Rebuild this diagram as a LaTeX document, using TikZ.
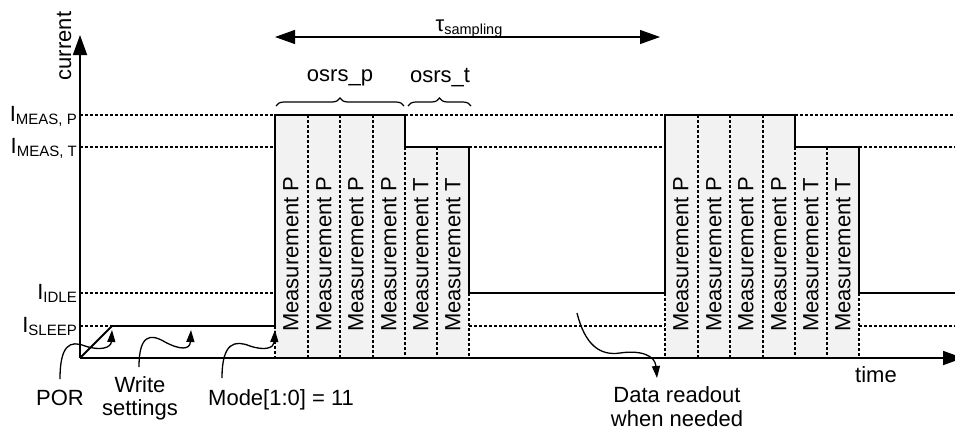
\documentclass[tikz,border=0pt]{standalone}
\usepackage{fontspec}
\setmainfont{Liberation Sans}
\usetikzlibrary{arrows.meta,decorations.pathreplacing}
\definecolor{blockfill}{HTML}{F2F2F2}
\newcommand{\lvlsub}[1]{\raisebox{-3pt}{\fontsize{15}{15}\selectfont #1}}
\begin{document}
\begin{tikzpicture}[x=1pt,y=-1pt,
  axis/.style={line width=1.8pt,-{Triangle[length=20pt,width=14pt]}},
  trace/.style={line width=1.8pt,line join=miter},
  guide/.style={line width=1.1pt,dash pattern=on 3pt off 2pt},
  meas/.style={rotate=90,anchor=west,inner sep=0pt,font=\fontsize{22}{22}\selectfont},
  lbl/.style={inner sep=0pt,font=\fontsize{22}{24}\selectfont},
  lvl/.style={anchor=base east,inner sep=0pt,font=\fontsize{22}{22}\selectfont},
  wave/.style={line width=1.3pt,-{Triangle[length=12pt,width=8pt]}},
  brc/.style={line width=1.2pt,decorate,decoration={brace,amplitude=8pt}},
  tauarr/.style={line width=1.2pt,{Triangle[length=20pt,width=14pt]}-{Triangle[length=20pt,width=14pt]}}
]
\useasboundingbox (0,0) rectangle (955,429);

% block fills
\foreach \s in {0,390}{
  \fill[blockfill] (275+\s,115) rectangle (405+\s,358);
  \fill[blockfill] (405+\s,147) rectangle (469+\s,358);
}
% block dividers
\foreach \s in {0,390}{
  \foreach \x in {308,340,373}{\draw[guide] (\x+\s,115) -- (\x+\s,358);}
  \draw[guide] (405+\s,147) -- (405+\s,358);
  \draw[guide] (437+\s,147) -- (437+\s,358);
  \draw[guide] (469+\s,293) -- (469+\s,358);
}
\draw[guide] (275,326) -- (275,358);
\draw[guide] (665,293) -- (665,358);

% level guides
\draw[guide] (80,115) -- (275,115);
\draw[guide] (405,115) -- (665,115);
\draw[guide] (795,115) -- (955,115);
\draw[guide] (80,147) -- (275,147);
\draw[guide] (469,147) -- (665,147);
\draw[guide] (859,147) -- (955,147);
\draw[guide] (80,293) -- (275,293);
\draw[guide] (80,326) -- (112,326);
\draw[guide] (469,326) -- (665,326);
\draw[guide] (859,326) -- (955,326);

% measurement labels
\foreach \s in {0,390}{
  \foreach \x/\t in {291/P,324/P,356/P,389/P,421/T,453/T}{
    \node[meas] at (\x+\s,332) {Measurement \t};
  }
}

% axes
\coordinate (O) at (80,358);
\coordinate (Ytop) at (80,35);
\coordinate (Xend) at (963,358);
\draw[axis] (O) -- (Ytop);
\draw[axis] (O) -- (Xend);

% current trace
\draw[trace] (O) -- (112,326) -- (275,326) -- (275,115) -- (405,115) -- (405,147)
  -- (469,147) -- (469,293) -- (665,293) -- (665,115) -- (795,115) -- (795,147)
  -- (859,147) -- (859,293) -- (955,293);

% axis labels
\node[lbl,rotate=90] (cur) at (64,46) {current};
\node[lbl,anchor=base] (time) at (876,382) {time};
\node[lvl] (imp) at (77,121) {I\lvlsub{MEAS, P}};
\node[lvl] (imt) at (77,153) {I\lvlsub{MEAS, T}};
\node[lvl] (iid) at (77,299) {I\lvlsub{IDLE}};
\node[lvl] (isl) at (77,332) {I\lvlsub{SLEEP}};

% tau sampling
\coordinate (tauL) at (275,37);
\coordinate (tauR) at (660,37);
\draw[tauarr] (tauL) -- (tauR);
\node[lbl,anchor=base] (tau) at (469,31) {τ\raisebox{-3pt}{\fontsize{14.5}{14.5}\selectfont sampling}};

% braces
\coordinate (bpL) at (276,106);
\coordinate (bpR) at (404,106);
\coordinate (btL) at (408,106);
\coordinate (btR) at (471,106);
\draw[brc] (bpL) -- (bpR);
\draw[brc] (btL) -- (btR);
\node[lbl] (osp) at (340,78) {osrs\_p};
\node[lbl] (ost) at (440,78) {osrs\_t};

% bottom labels
\node[lbl,anchor=base] (por) at (60,405) {POR};
\node[lbl,anchor=base] (wr1) at (140,392) {Write};
\node[lbl,anchor=base] (wr2) at (140,415) {settings};
\node[lbl,anchor=base west] (mode) at (208,405) {Mode[1:0] = 11};
\node[lbl,anchor=base] (dr1) at (677,402) {Data readout};
\node[lbl,anchor=base] (dr2) at (677,426) {when needed};

% wavy pointers
\coordinate (porS) at (60,379);
\coordinate (porT) at (112,330);
\coordinate (wrS) at (139,367);
\coordinate (wrT) at (191,330);
\coordinate (moS) at (222,378);
\coordinate (moT) at (275,330);
\coordinate (drS) at (577,313);
\coordinate (drT) at (657,378);
\draw[wave] (porS) .. controls (60,345) and (70,340) .. (85,346) .. controls (100,351) and (111,348) .. (porT);
\draw[wave] (wrS) .. controls (139,335) and (150,333) .. (165,342) .. controls (180,350) and (190,350) .. (wrT);
\draw[wave] (moS) .. controls (222,342) and (235,340) .. (250,346) .. controls (265,351) and (274,348) .. (moT);
\draw[wave] (drS) .. controls (585,345) and (600,356) .. (620,353) .. controls (640,350) and (655,355) .. (drT);
\end{tikzpicture}
\end{document}
